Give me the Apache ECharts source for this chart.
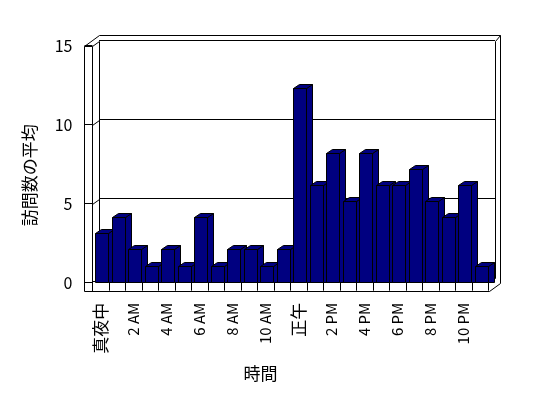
<!DOCTYPE html>
<html><head><meta charset="utf-8">
<script src="https://cdn.jsdelivr.net/npm/echarts@6/dist/echarts.min.js"></script>
<style>html,body{margin:0;padding:0;background:#fff}#c{width:548px;height:398px}</style>
</head><body><div id="c"></div>
<script>
// ---- data ----
const categories = ['真夜中','1 AM','2 AM','3 AM','4 AM','5 AM','6 AM','7 AM','8 AM','9 AM','10 AM','11 AM',
                    '正午','1 PM','2 PM','3 PM','4 PM','5 PM','6 PM','7 PM','8 PM','9 PM','10 PM','11 PM'];
const visits = [3,4,2,1,2,1,4,1,2,2,1,2,12,6,8,5,8,6,6,7,5,4,6,1];
const yMin = 0, yMax = 15, yStep = 5;
const yTicks = [0,5,10,15];
const yTitle = '訪問数の平均';
const xTitle = '時間';

// ---- style / layout ----
const FONT = "'Noto Sans CJK JP','Noto Sans',sans-serif";
const BAR = '#000080';
const snap = v => Math.round(v) + 0.5;

const chart = echarts.init(document.getElementById('c'), null, {renderer:'canvas'});

function renderBar(params, api) {
  const i = api.value(0), v = api.value(1);
  const band = api.size([1, 0])[0];
  const c = api.coord([i, v]);
  const b = api.coord([i, 0]);
  const x0 = snap(c[0] - band / 2 + band * 0.17);
  const w = Math.round(band * 0.81);
  const dx = Math.round(band * 0.375), dy = Math.round(band * 0.27);
  const ty = snap(c[1]), by = snap(b[1]);
  const style = {fill: BAR, stroke: '#000', lineWidth: 1};
  return {type: 'group', children: [
    {type: 'polygon', shape: {points: [[x0 + w, ty], [x0 + w + dx, ty - dy], [x0 + w + dx, by], [x0 + w, by]]}, style},
    {type: 'polygon', shape: {points: [[x0, ty], [x0 + dx, ty - dy], [x0 + w + dx, ty - dy], [x0 + w, ty]]}, style},
    {type: 'rect', shape: {x: x0, y: ty, width: w, height: by - ty}, style}
  ]};
}

const isCJK = s => /[\u3000-\u9fff]/.test(s);

const option = {
  animation: false,
  backgroundColor: '#fff',
  grid: [
    {left: 92.5, top: 39.9, width: 396, height: 241.8, outerBoundsMode: 'none'}, // bars
    {left: 99, top: 40.7, width: 396, height: 237, outerBoundsMode: 'none'},     // back wall
    {left: 92.5, top: 45.7, width: 396, height: 237, outerBoundsMode: 'none'}    // front plane
  ],
  xAxis: [
    {type: 'category', gridIndex: 0, data: categories, boundaryGap: true,
     axisLine: {show: true, lineStyle: {color: '#000', width: 1}},
     axisTick: {show: true, interval: 0, length: 9, lineStyle: {color: '#000'}},
     axisLabel: {interval: 1, rotate: 90, margin: 21, color: '#000', fontFamily: FONT, fontSize: 15,
       formatter: v => isCJK(v) ? '{c|' + v + '}' : v,
       rich: {c: {fontSize: 17, fontFamily: FONT, color: '#000'}}},
     name: xTitle, nameLocation: 'middle', nameGap: 83,
     nameTextStyle: {fontFamily: FONT, fontSize: 17, color: '#000', padding: [0, 60, 0, 0]},
     splitLine: {show: false}},
    {type: 'value', gridIndex: 1, show: false},
    {type: 'value', gridIndex: 2, show: false}
  ],
  yAxis: [
    {type: 'value', gridIndex: 0, min: yMin, max: yMax, interval: yStep, show: false},
    {type: 'value', gridIndex: 1, min: yMin, max: yMax, interval: yStep,
     axisLine: {show: false}, axisTick: {show: false}, axisLabel: {show: false},
     splitLine: {show: true, lineStyle: {color: '#000', width: 1}}},
    {type: 'value', gridIndex: 2, min: yMin, max: yMax, interval: yStep,
     axisLine: {show: false},
     axisTick: {show: true, length: 8, lineStyle: {color: '#000'}},
     axisLabel: {margin: 20, color: '#000', fontFamily: FONT, fontSize: 16},
     splitLine: {show: false},
     name: yTitle, nameLocation: 'middle', nameGap: 54, nameRotate: 90,
     nameTextStyle: {fontFamily: FONT, fontSize: 17, color: '#000', padding: [0, 22, 0, 0]}}
  ],
  series: [{
    type: 'custom', xAxisIndex: 0, yAxisIndex: 0, z: 5,
    renderItem: renderBar,
    encode: {x: 0, y: 1},
    data: visits.map((v, i) => [i, v])
  }]
};
chart.setOption(option);

// ---- 3D frame (walls / floor), positioned from the axes ----
const yF = v => chart.convertToPixel({yAxisIndex: 2}, v);
const yB = v => chart.convertToPixel({yAxisIndex: 1}, v);
const FI = 92.5, FL = 84.5, BX = 99.5, BR = 495.5, BRO = 500.5;
const floorT = snap(chart.convertToPixel({yAxisIndex: 0}, 0));
const floorB = floorT + 9;
const floorR = snap(chart.convertToPixel({xAxisIndex: 0}, categories.length - 1) + 396 / categories.length / 2) ;
const topF = snap(yF(yMax)), topB = snap(yB(yMax)), topO = topB - 6, backBot = snap(yB(yMin));
const ln = (x1, y1, x2, y2, z) => ({type: 'line', z: z, silent: true,
  shape: {x1, y1, x2, y2}, style: {stroke: '#000', lineWidth: 1}});
const g = [];
// outer silhouette
g.push({type: 'polyline', z: 10, silent: true,
  shape: {points: [[FL, floorB], [FL, topF], [BX, topO], [BRO, topO], [BRO, floorT + 1], [floorR, floorB], [FL, floorB]]},
  style: {stroke: '#000', lineWidth: 1, fill: null}});
// front inner edge of left wall
g.push(ln(FI, topF, FI, floorB, 10));
g.push(ln(FL, topF, FI, topF, 10));
// back wall edges
g.push(ln(BX, topB, BX, backBot, 0));
g.push(ln(BR, topB, BR, backBot, 0));
g.push(ln(BR, topB, BRO, topO, 0));
g.push(ln(floorR, floorT, BR, backBot, 0));
// diagonals from front ticks to back grid lines
yTicks.filter(t => t > yMin).forEach(t => g.push(ln(FI, snap(yF(t)), BX, snap(yB(t)), 0)));
chart.setOption({graphic: g});
</script>
</body></html>
